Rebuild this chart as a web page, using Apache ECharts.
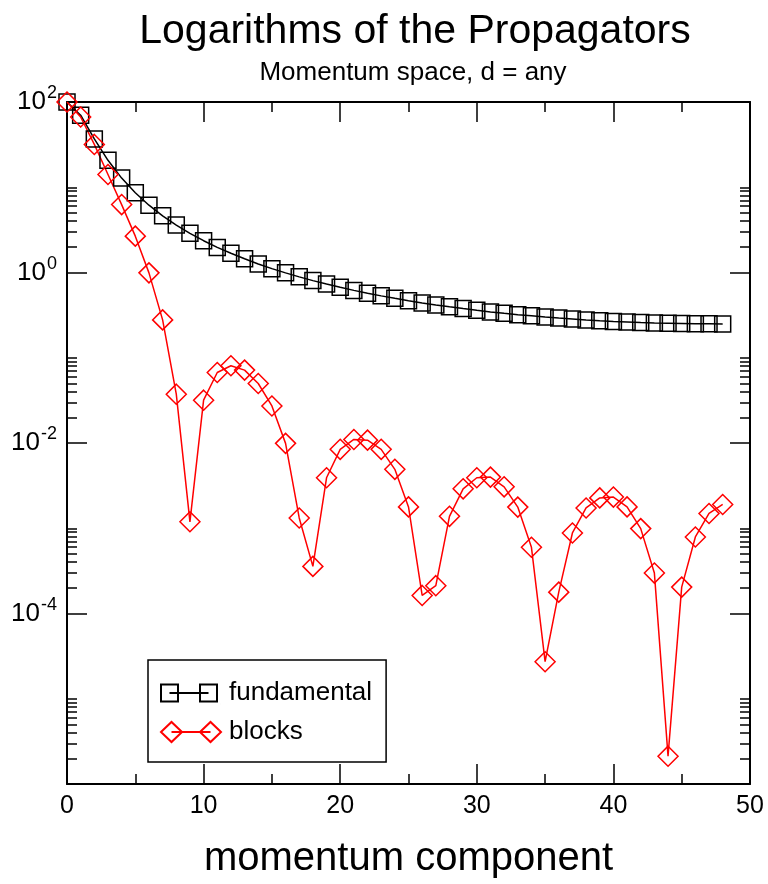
<!DOCTYPE html>
<html>
<head>
<meta charset="utf-8">
<script src="https://cdn.jsdelivr.net/npm/echarts@6/dist/echarts.min.js"></script>
<style>
  html, body { margin: 0; padding: 0; background: #fff; }
  #chart { width: 768px; height: 884px; }
</style>
</head>
<body>
<div id="chart"></div>
<script>
// momentum component k
const momentum = [0, 1, 2, 3, 4, 5, 6, 7, 8, 9, 10, 11, 12, 13, 14, 15, 16, 17, 18, 19, 20,
  21, 22, 23, 24, 25, 26, 27, 28, 29, 30, 31, 32, 33, 34, 35, 36, 37, 38, 39, 40,
  41, 42, 43, 44, 45, 46, 47, 48];

// propagator values
const fundamental = [100, 70, 36.9, 20.7, 12.8, 8.61, 6.16, 4.62, 3.60, 2.88, 2.36, 1.97,
  1.68, 1.45, 1.26, 1.11, 0.990, 0.889, 0.803, 0.731, 0.670, 0.617, 0.572, 0.532, 0.498,
  0.467, 0.440, 0.417, 0.396, 0.377, 0.360, 0.345, 0.332, 0.320, 0.310, 0.300, 0.292,
  0.285, 0.278, 0.272, 0.267, 0.263, 0.259, 0.256, 0.254, 0.252, 0.250, 0.250, 0.249];

const blocks = [100, 66.7, 31.8, 14.1, 6.26, 2.67, 0.99, 0.278, 0.0374, 0.00119, 0.0318,
  0.0671, 0.0805, 0.0716, 0.0499, 0.0272, 0.0099, 0.00132, 0.000357, 0.00391, 0.00843,
  0.0110, 0.0108, 0.00843, 0.00491, 0.00178, 0.000163, 0.000212, 0.00138, 0.0029, 0.00391,
  0.00398, 0.00306, 0.00177, 0.000598, 2.72e-5, 0.000178, 0.00088, 0.00173, 0.00227,
  0.00232, 0.00178, 0.00099, 0.000298, 2.12e-6, 0.000204, 0.00079, 0.00149, 0.0019];

// minor ticks of the log axis (grace style: 2..10 x major)
const yMinorTicks = [
  2e-6, 3e-6, 4e-6, 5e-6, 6e-6, 7e-6, 8e-6, 9e-6, 1e-5,
  2e-4, 3e-4, 4e-4, 5e-4, 6e-4, 7e-4, 8e-4, 9e-4, 1e-3,
  2e-2, 3e-2, 4e-2, 5e-2, 6e-2, 7e-2, 8e-2, 9e-2, 1e-1,
  2, 3, 4, 5, 6, 7, 8, 9, 10
];

const FONT = 'Liberation Sans, Arial, Helvetica, sans-serif';

const chart = echarts.init(document.getElementById('chart'));

function expLabel(v) {
  const e = Math.round(Math.log10(v));
  return '{b|10}{e|' + e + '}';
}

const axisLine = { show: true, lineStyle: { color: '#000', width: 2 } };

function yAxisDef(pos, minor) {
  return {
    type: 'log',
    logBase: 10,
    position: pos,
    min: 1e-6,
    max: 100,
    interval: 2,
    axisLine: minor ? { show: false } : axisLine,
    splitLine: { show: false },
    axisTick: minor
      ? { show: true, inside: true, length: 10, customValues: yMinorTicks, lineStyle: { color: '#000', width: 1.5 } }
      : { show: true, inside: true, length: 20, lineStyle: { color: '#000', width: 1.5 } },
    axisLabel: (pos === 'left' && !minor) ? {
      show: true,
      margin: 10,
      showMinLabel: false,
      formatter: expLabel,
      rich: {
        b: { fontSize: 26, lineHeight: 26, fontFamily: FONT, color: '#000', verticalAlign: 'bottom' },
        e: { fontSize: 18, lineHeight: 18, fontFamily: FONT, color: '#000', padding: [0, 0, 17, 1] }
      }
    } : { show: false }
  };
}

function xAxisDef(pos) {
  return {
    type: 'value',
    position: pos,
    min: 0,
    max: 50,
    interval: 10,
    axisLine: axisLine,
    splitLine: { show: false },
    axisTick: { show: true, inside: true, length: 20, lineStyle: { color: '#000', width: 1.5 } },
    minorTick: { show: true, splitNumber: 2, length: 10, lineStyle: { color: '#000', width: 1.5 } },
    minorSplitLine: { show: false },
    axisLabel: pos === 'bottom'
      ? { show: true, margin: 10, fontSize: 25, fontFamily: FONT, color: '#000' }
      : { show: false },
    name: pos === 'bottom' ? 'momentum component' : '',
    nameLocation: 'middle',
    nameGap: 55,
    nameTextStyle: { fontSize: 40, fontFamily: FONT, color: '#000' }
  };
}

const squareIcon = 'path://M0,0L0.01,0M0,2.5H17V19.5H0ZM8.5,11H47.5M39,2.5H56V19.5H39ZM60,22L59.99,22';
const diamondIcon = 'path://M0,11L10.5,1L21,11L10.5,21ZM10.5,11H49.5M39,11L49.5,1L60,11L49.5,21Z';

const option = {
  animation: false,
  backgroundColor: '#fff',
  title: [
    {
      text: 'Logarithms of the Propagators',
      left: 410, top: 6, textAlign: 'center',
      textStyle: { fontSize: 41, fontWeight: 'normal', fontFamily: FONT, color: '#000' }
    },
    {
      text: 'Momentum space, d = any',
      left: 408, top: 55, textAlign: 'center',
      textStyle: { fontSize: 26, fontWeight: 'normal', fontFamily: FONT, color: '#000' }
    }
  ],
  grid: { left: 67, right: 18, top: 102, bottom: 100, containLabel: false },
  xAxis: [xAxisDef('bottom'), xAxisDef('top')],
  yAxis: [yAxisDef('left', false), yAxisDef('left', true), yAxisDef('right', false), yAxisDef('right', true)],
  legend: {
    orient: 'vertical',
    left: 148,
    top: 660,
    padding: [20, 14, 17, 12],
    itemGap: 13,
    itemWidth: 60,
    itemHeight: 22,
    borderColor: '#000',
    borderWidth: 1.5,
    backgroundColor: '#fff',
    textStyle: { fontSize: 26, fontFamily: FONT, color: '#000', padding: [0, 0, 0, 3] },
    data: [
      { name: 'fundamental', icon: squareIcon },
      { name: 'blocks', icon: diamondIcon }
    ]
  },
  series: [
    {
      name: 'fundamental',
      type: 'line',
      xAxisIndex: 0,
      yAxisIndex: 0,
      data: momentum.map((k, i) => [k, fundamental[i]]),
      symbol: 'rect',
      symbolSize: 16,
      showAllSymbol: true,
      lineStyle: { color: '#000', width: 1.5 },
      itemStyle: { color: 'transparent', borderColor: '#000', borderWidth: 1.5 }
    },
    {
      name: 'blocks',
      type: 'line',
      xAxisIndex: 0,
      yAxisIndex: 0,
      data: momentum.map((k, i) => [k, blocks[i]]),
      symbol: 'diamond',
      symbolSize: 20,
      showAllSymbol: true,
      lineStyle: { color: '#ff0000', width: 1.5 },
      itemStyle: { color: 'transparent', borderColor: '#ff0000', borderWidth: 1.5 }
    }
  ]
};

chart.setOption(option);
</script>
</body>
</html>
